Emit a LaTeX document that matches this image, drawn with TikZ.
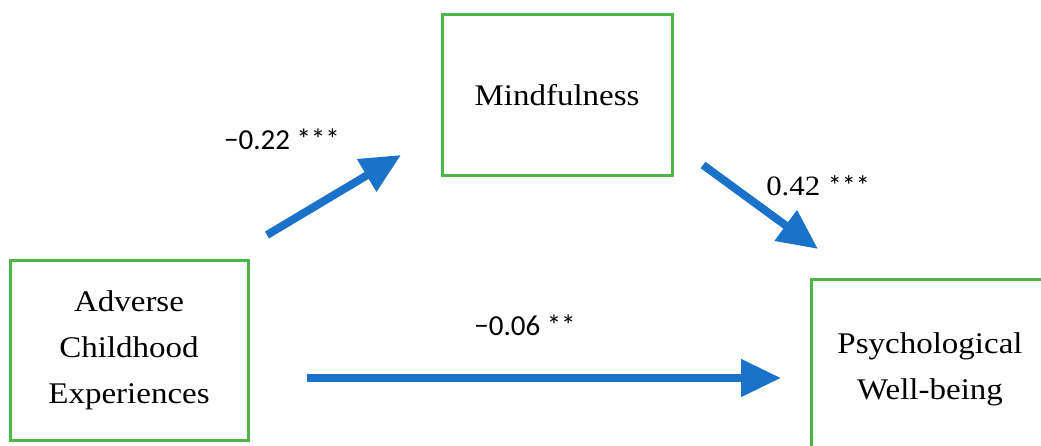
\documentclass[tikz,border=0pt]{standalone}
\usepackage{fontspec}
\setmainfont{Liberation Serif}[FakeStretch=1.1]
\newfontfamily\numfont{Carlito}
\usetikzlibrary{arrows.meta, positioning}
\definecolor{boxgreen}{RGB}{76, 182, 72}
\definecolor{pathblue}{RGB}{26, 115, 200}

\begin{document}
\begin{tikzpicture}[x=1pt, y=-1pt,
    varbox/.style={draw=boxgreen, line width=3pt, minimum width=238pt, minimum height=179pt,
        align=center, inner sep=0pt, font=\fontsize{30}{46}\selectfont},
    pathline/.style={pathblue, line width=8pt, -{Triangle[length=40pt, width=36pt]}},
    coef/.style={font=\numfont\fontsize{29}{34}\selectfont}]
    \useasboundingbox (0,0) rectangle (1041,446);
    % the three variables
    \node[varbox, minimum width=230pt, minimum height=161pt] (mind) at (557,95.5) {Mindfulness};
    \node[varbox] (ace) at (129,350.5) {Adverse\\Childhood\\Experiences};
    \node[varbox] (pwb) at (930,369.5) {Psychological\\Well-being};
    % free ends of the paths
    \coordinate (acetail) at (267,235);
    \coordinate (mindtip) at (401,155);
    \coordinate (mindtail) at (703,165);
    \coordinate (pwbtip) at (818,249);
    \coordinate (directtail) at (307,378);
    \coordinate (directtip) at (781,378);
    \draw[pathline] (acetail) -- (mindtip);
    \draw[pathline] (mindtail) -- (pwbtip);
    \draw[pathline] (directtail) -- (directtip);
    % coefficients
    \node[coef] (coefa) at (282,139) {−0.22 ***};
    \node[coef, font=\fontsize{28}{34}\selectfont] (coefb) at (818,186) {0.42 {\numfont ***}};
    \node[coef] (coefc) at (525,325) {−0.06 **};
\end{tikzpicture}
\end{document}
